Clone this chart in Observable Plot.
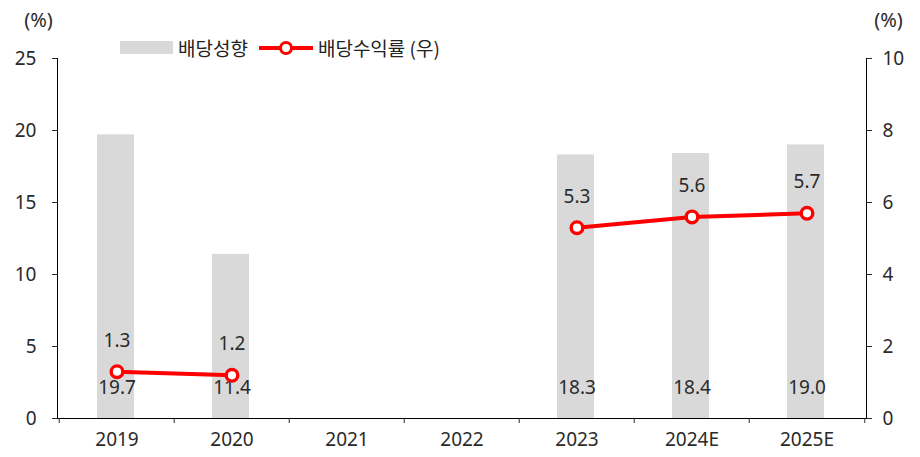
<!DOCTYPE html>
<html>
<head>
<meta charset="utf-8">
<script src="https://cdn.jsdelivr.net/npm/d3@7"></script>
<script src="https://cdn.jsdelivr.net/npm/@observablehq/plot@0.6"></script>
<style>
  body { margin: 0; background: #fff; font-family: "Noto Sans", "Noto Sans CJK KR", sans-serif; color: #222; }
  #wrap { position: relative; width: 920px; height: 457px; }
  #legend { position: absolute; top: 34px; left: 120px; display: flex; align-items: center; font-size: 19px; color: #222; white-space: nowrap; font-family: "Noto Sans CJK KR", sans-serif; }
  .sw-bar { width: 53px; height: 13px; background: #d9d9d9; margin-right: 5px; }
  .sw-line { position: relative; width: 54px; height: 14px; margin: 0 5px 0 11px; }
  .sw-line::before { content: ""; position: absolute; left: 0; right: 0; top: 5px; height: 4px; background: #ff0000; }
  .sw-line::after { content: ""; position: absolute; left: 20px; top: 0px; width: 8px; height: 8px; border: 3px solid #ff0000; border-radius: 50%; background: #fff; }
</style>
</head>
<body>
<div id="wrap">
  <div id="chart"></div>
  <div id="legend">
    <span class="sw-bar"></span><span>배당성향</span>
    <span class="sw-line"></span><span>배당수익률 (우)</span>
  </div>
</div>
<script>
const years = ["2019", "2020", "2021", "2022", "2023", "2024E", "2025E"];
const payoutRatio = [19.7, 11.4, null, null, 18.3, 18.4, 19.0];   // 배당성향 (left, %)
const dividendYield = [1.3, 1.2, null, null, 5.3, 5.6, 5.7];      // 배당수익률 (right, %)
const leftTicks = [0, 5, 10, 15, 20, 25];
const rightTicks = [0, 2, 4, 6, 8, 10];
const leftMax = 25, rightMax = 10;
const ratio = leftMax / rightMax;

const data = years.map((year, i) => ({ year, payout: payoutRatio[i], yld: dividendYield[i] }));

const W = 920, H = 457, mL = 57, mR = 54, mT = 58, mB = 39;
const bw = (W - mL - mR) / years.length;
const font = "Noto Sans, Noto Sans CJK KR, sans-serif";
const fs = 19;
const ink = "#2a2a2a";

const chart = Plot.plot({
  width: W, height: H,
  marginLeft: mL, marginRight: mR, marginTop: mT, marginBottom: mB,
  style: { fontFamily: font, fontSize: fs + "px", color: ink, background: "#fff" },
  x: { type: "band", domain: years, padding: 0 },
  y: { domain: [0, leftMax] },
  marks: [
    Plot.barY(data.filter(d => d.payout != null), { x: "year", y: "payout", fill: "#d9d9d9", insetLeft: 38, insetRight: 40 }),
    Plot.frame({ anchor: "left", stroke: "#000" }),
    Plot.frame({ anchor: "right", stroke: "#000" }),
    Plot.frame({ anchor: "bottom", stroke: "#000" }),
    Plot.axisY({ anchor: "left", ticks: leftTicks, tickSize: 5, tickPadding: 16, label: null, fontSize: fs }),
    Plot.axisY({ anchor: "right", ticks: rightTicks.map(t => t * ratio), tickFormat: d => String(d / ratio), tickSize: 5, tickPadding: 11, label: null, fontSize: fs }),
    Plot.axisX({ tickSize: 0, tickPadding: 14, label: null, fontSize: fs }),
    Plot.axisX({ ticks: years, tickSize: 5, tickFormat: () => "", label: null, dx: -bw / 2 }),
    Plot.axisX({ ticks: [years[years.length - 1]], tickSize: 5, tickFormat: () => "", label: null, dx: bw / 2 }),
    Plot.text(data.filter(d => d.payout != null), { x: "year", frameAnchor: "bottom", text: d => d.payout.toFixed(1), dy: -25, fontSize: fs, fill: ink }),
    Plot.line(data, { x: "year", y: d => d.yld == null ? NaN : d.yld * ratio, stroke: "#ff0000", strokeWidth: 4 }),
    Plot.dot(data.filter(d => d.yld != null), { x: "year", y: d => d.yld * ratio, r: 5.8, fill: "#fff", stroke: "#ff0000", strokeWidth: 3.4 }),
    Plot.text(data.filter(d => d.yld != null), { x: "year", y: d => d.yld * ratio, text: d => d.yld.toFixed(1), dy: -31, fontSize: fs, fill: ink }),
    Plot.text(["(%)"], { frameAnchor: "top-left", textAnchor: "middle", lineAnchor: "middle", dx: -19, dy: -38, fontSize: 20, fill: ink }),
    Plot.text(["(%)"], { frameAnchor: "top-right", textAnchor: "middle", lineAnchor: "middle", dx: 22, dy: -38, fontSize: 20, fill: ink })
  ]
});
document.getElementById("chart").appendChild(chart);
</script>
</body>
</html>
